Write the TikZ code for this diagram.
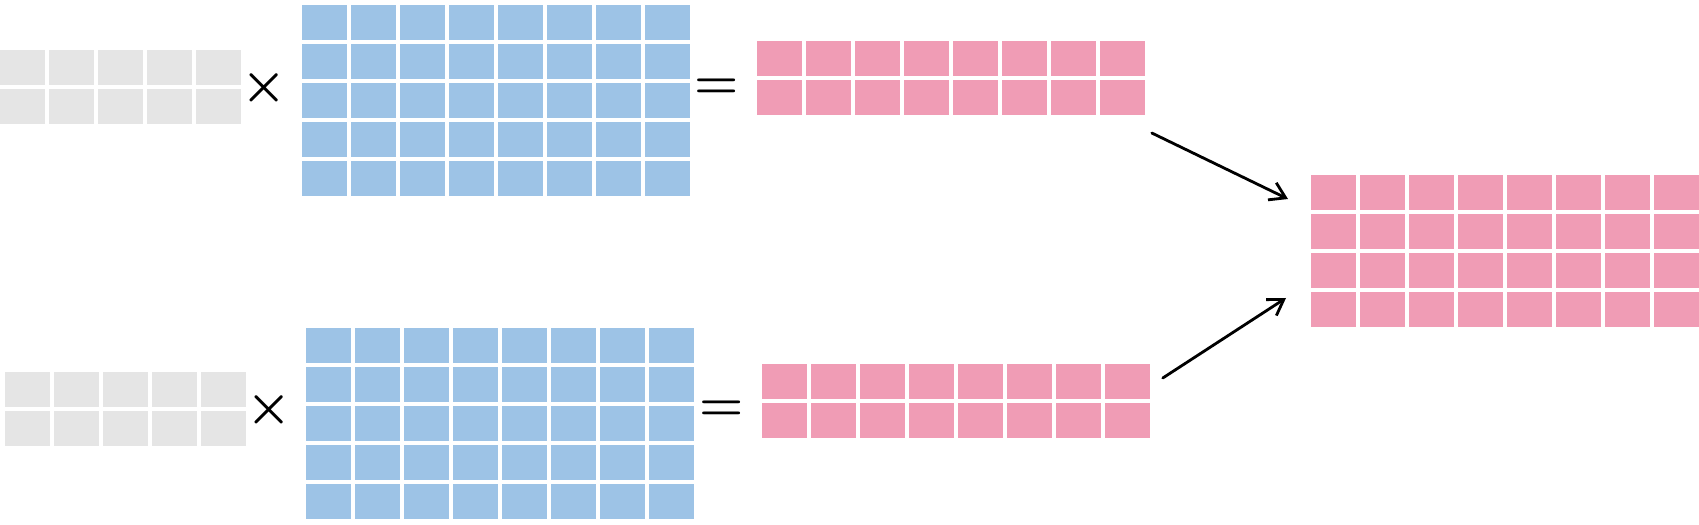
\documentclass[tikz,border=0pt]{standalone}
\usepackage{amsmath}
\usetikzlibrary{arrows.meta}

\definecolor{inputgray}{HTML}{E5E5E5}
\definecolor{weightblue}{HTML}{9DC3E6}
\definecolor{outputpink}{HTML}{F09CB5}

% #1 name, #2 north west corner, #3 columns, #4 rows, #5 colour
\newcommand{\cellgrid}[5]{%
  \node [gridbox, anchor=north west,
         minimum width={#3*0.49cm-0.042cm},
         minimum height={#4*0.39cm-0.04cm}, name=#1] at #2 {};
  \foreach \c in {1,...,#3}
    \foreach \r in {1,...,#4}
      \fill [#5] ([shift={({(\c-1)*0.49},{-(\r-1)*0.39})}]#1.north west)
                 rectangle +(0.448, -0.35);
}

\begin{document}
\begin{tikzpicture}[gridbox/.style = {rectangle, inner sep=0pt, outer sep=0pt},
                    times/.style = {inner sep=0pt, font=\fontsize{14.5pt}{17pt}\selectfont\boldmath},
                    equals/.style = {inner sep=0pt, font=\fontsize{13.5pt}{16pt}\selectfont\boldmath},
                    flow/.style = {-{Straight Barb[length=1.5mm, width=1.9mm]}, line width=0.8pt},
                    line cap=round]
  \useasboundingbox (0, 0) rectangle (16.99, 5.25);

  % Top product.
  \cellgrid{InputTop}{(0, 4.75)}{5}{2}{inputgray}
  \cellgrid{WeightTop}{(3.02, 5.20)}{8}{5}{weightblue}
  \cellgrid{OutputTop}{(7.57, 4.84)}{8}{2}{outputpink}
  \node at (2.64, 4.37) [times, name=TimesTop] {$\times$};
  \node at (7.17, 4.365) [equals, name=EqualsTop] {$=$};

  % Bottom product.
  \cellgrid{InputBottom}{(0.05, 1.53)}{5}{2}{inputgray}
  \cellgrid{WeightBottom}{(3.06, 1.97)}{8}{5}{weightblue}
  \cellgrid{OutputBottom}{(7.62, 1.61)}{8}{2}{outputpink}
  \node at (2.69, 1.15) [times, name=TimesBottom] {$\times$};
  \node at (7.22, 1.14) [equals, name=EqualsBottom] {$=$};

  % Sum.
  \cellgrid{Sum}{(13.11, 3.50)}{8}{4}{outputpink}

  \draw [flow] ([shift={(0.07, -0.18)}]OutputTop.south east)
               to
               ([shift={(-0.23, -0.24)}]Sum.north west);
  \draw [flow] ([shift={(0.13, -0.14)}]OutputBottom.north east)
               to
               ([shift={(-0.25, 0.29)}]Sum.south west);
\end{tikzpicture}
\end{document}
